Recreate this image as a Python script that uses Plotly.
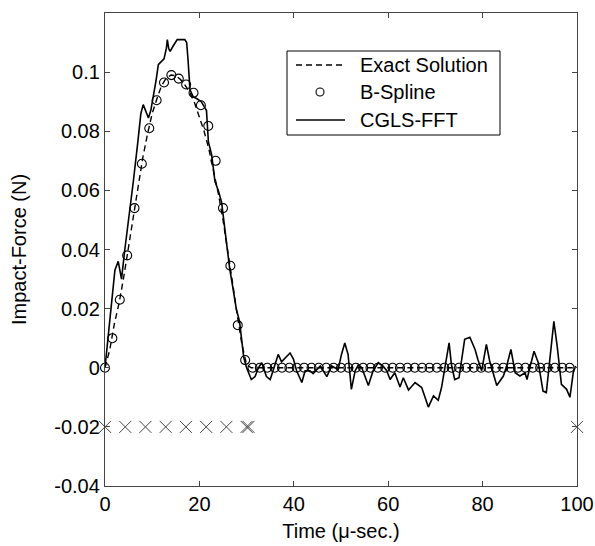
import plotly.graph_objects as go

# ---------------- data ----------------
exact_t = [0, 1, 2, 3, 4, 5, 6, 7, 8, 9, 10, 11, 12, 13, 14, 15, 16, 17, 18, 19,
           20, 21, 22, 23, 24, 25, 26, 27, 28, 29, 30, 31, 100]
exact_v = [0, 0.006, 0.015, 0.022, 0.031, 0.041, 0.052, 0.062, 0.071, 0.079,
           0.086, 0.091, 0.0955, 0.098, 0.099, 0.0988, 0.0975, 0.0955, 0.093,
           0.0895, 0.085, 0.080, 0.074, 0.067, 0.059, 0.050, 0.040, 0.029,
           0.018, 0.008, 0.001, 0, 0]

bspline_t = [0, 1.56, 3.13, 4.69, 6.25, 7.81, 9.38, 10.94, 12.5, 14.06, 15.63,
             17.19, 18.75, 20.31, 21.88, 23.44, 25.0, 26.56, 28.13, 29.69,
             31.25, 32.81, 34.38, 35.94, 37.5, 39.06, 40.63, 42.19, 43.75,
             45.31, 46.88, 48.44, 50.0, 51.56, 53.13, 54.69, 56.25, 57.81,
             59.38, 60.94, 62.5, 64.06, 65.63, 67.19, 68.75, 70.31, 71.88,
             73.44, 75.0, 76.56, 78.13, 79.69, 81.25, 82.81, 84.38, 85.94,
             87.5, 89.06, 90.63, 92.19, 93.75, 95.31, 96.88, 98.44]
bspline_v = [0, 0.010, 0.023, 0.038, 0.054, 0.069, 0.081, 0.0905, 0.0965, 0.099,
             0.0978, 0.0958, 0.093, 0.0888, 0.0818, 0.070, 0.054, 0.0345,
             0.0144, 0.0026,
             0, 0, 0, 0, 0, 0, 0, 0, 0, 0, 0, 0, 0, 0, 0, 0, 0, 0, 0, 0, 0, 0,
             0, 0, 0, 0, 0, 0, 0, 0, 0, 0, 0, 0, 0, 0, 0, 0, 0, 0, 0, 0, 0, 0]

cgls_t = [0, 0.5, 1, 1.5, 2.1, 2.8, 3.5, 4.2, 5.0, 6.0, 7.0, 7.6, 8.1, 8.6, 9.2,
          9.7, 10.2, 10.8, 11.3, 12.5, 13.0, 13.2, 13.5, 13.8, 14.5, 15.3,
          16.9, 17.3, 17.6, 18.0, 18.7, 19.5, 20.4, 21.0, 21.5, 21.9, 22.6,
          23.3, 24.0, 24.7, 25.0, 25.7, 26.4, 27.1, 27.8, 28.5, 29.0, 29.4,
          30, 31, 31.8, 32.5, 33.2, 34.2, 35, 36, 36.7, 37.4, 38.5, 39.2, 39.9,
          40.6, 41.7, 42.4, 43.4, 44.1, 45.6, 47, 48, 49.4, 50.1, 50.8, 51.5,
          52.2, 53, 53.7, 54.4, 55.8, 56.8, 57.9, 58.9, 59.7, 60.4, 61.4, 62.5,
          63.2, 64.3, 65.7, 67.1, 68.5, 69.6, 70.6, 71.3, 72, 72.9, 73.4, 74.1,
          75, 76.2, 77.3, 78.4, 79, 79.8, 80.8, 81.5, 83, 84.4, 85.1, 86, 86.9,
          87.9, 89, 89.4, 90, 90.9, 91.8, 92.8, 93.5, 94.3, 95.1, 95.8, 96.7,
          97.8, 98.5, 99.2, 99.7]
cgls_v = [0, 0.008, 0.016, 0.024, 0.033, 0.036, 0.030, 0.040, 0.050, 0.063,
          0.077, 0.086, 0.089, 0.087, 0.0845, 0.087, 0.091, 0.097, 0.1025,
          0.1045, 0.108, 0.111, 0.108, 0.107, 0.109, 0.111, 0.111, 0.110,
          0.104, 0.094, 0.0916, 0.091, 0.090, 0.0885, 0.087, 0.0765, 0.072,
          0.063, 0.060, 0.056, 0.052, 0.043, 0.0337, 0.027, 0.020, 0.0157,
          0.009, 0.0034,
          0, -0.004, -0.003, 0, 0.0017, -0.003, -0.004, 0.0006, 0.0045, 0.002,
          0.004, 0.005, 0.003, -0.001, -0.005, -0.001, -0.001, -0.002, 0.0006,
          -0.003, 0.0006, -0.0006, 0.0045, 0.0084, 0.0045, -0.0073, -0.001,
          0.001, 0, -0.006, -0.001, 0.0017, 0.0006, -0.001, -0.004, -0.0017,
          -0.0065, -0.0034, -0.0075, -0.005, -0.0067, -0.0133, -0.0095, -0.011,
          -0.0067, 0.0006, 0.0084, 0.001, -0.004, -0.0034, 0.0096, 0.0103,
          0.0062, 0.0028, -0.001, 0.0079, 0.0023, -0.006, -0.0028, 0.0006,
          0.0062, -0.0017, -0.0028, -0.0017, -0.004, 0, 0.0056, 0.0017,
          -0.0079, -0.0084, 0.0028, 0.0157, 0.0073, -0.0056, -0.0073, -0.010,
          -0.0017, 0.0006]

knot_t = [0, 4.29, 8.57, 12.86, 17.14, 21.43, 25.71, 30.0, 30.4, 100]
knot_v = [-0.02, -0.02, -0.02, -0.02, -0.02, -0.02, -0.02, -0.02, -0.02, -0.02]

x_ticks = [0, 20, 40, 60, 80, 100]
x_tick_text = ["0", "20", "40", "60", "80", "100"]
y_ticks = [-0.04, -0.02, 0, 0.02, 0.04, 0.06, 0.08, 0.1]
y_tick_text = ["-0.04", "-0.02", "0", "0.02", "0.04", "0.06", "0.08", "0.1"]

legend_names = ["Exact Solution", "B-Spline", "CGLS-FFT"]

FONT = "Liberation Sans, Arial, Helvetica, sans-serif"
AXC = "#444444"

W, H = 595, 546
ML, MR, MT, MB = 105, 18, 13, 60
PW, PH = W - ML - MR, H - MT - MB


def px(xp):
    # window pixel x -> paper x
    return (xp - ML) / PW


def py(yp):
    # window pixel y -> paper y
    return (H - MB - yp) / PH


fig = go.Figure()
fig.add_trace(go.Scatter(x=knot_t, y=knot_v, mode="markers", showlegend=False,
                         cliponaxis=False,
                         marker=dict(symbol="x-thin-open", size=12, color="#444444",
                                     line=dict(width=1, color="#444444"))))
fig.add_trace(go.Scatter(x=exact_t, y=exact_v, mode="lines", name=legend_names[0],
                         showlegend=False,
                         line=dict(color="black", width=1.4, dash="6px,4px")))
fig.add_trace(go.Scatter(x=bspline_t, y=bspline_v, mode="markers", name=legend_names[1],
                         showlegend=False, cliponaxis=False,
                         marker=dict(symbol="circle-open", size=9, color="black",
                                     line=dict(width=1.1, color="black"))))
fig.add_trace(go.Scatter(x=cgls_t, y=cgls_v, mode="lines", name=legend_names[2],
                         showlegend=False,
                         line=dict(color="black", width=1.6)))

# ---- legend box drawn as decoration (matches MATLAB legend layout) ----
shapes = [
    dict(type="rect", xref="paper", yref="paper", x0=px(287), x1=px(500),
         y0=py(135), y1=py(51), line=dict(color="black", width=1),
         fillcolor="white", layer="above"),
    dict(type="line", xref="paper", yref="paper", x0=px(296), x1=px(345),
         y0=py(65), y1=py(65), line=dict(color="black", width=1.4, dash="6px,4px"),
         layer="above"),
    dict(type="circle", xref="paper", yref="paper", x0=px(316), x1=px(324),
         y0=py(96), y1=py(88), line=dict(color="black", width=1.1), layer="above"),
    dict(type="line", xref="paper", yref="paper", x0=px(296), x1=px(345),
         y0=py(120), y1=py(120), line=dict(color="black", width=1.6),
         layer="above"),
]
annotations = []
for name, yc in zip(legend_names, [65, 92, 120]):
    annotations.append(dict(text=name, xref="paper", yref="paper", x=px(358),
                            y=py(yc), xanchor="left", yanchor="middle",
                            showarrow=False,
                            font=dict(family=FONT, size=20, color="black")))

axis_common = dict(showline=True, linecolor=AXC, linewidth=1.3, mirror="ticks",
                   ticks="inside", ticklen=5, tickcolor=AXC, tickwidth=1,
                   showgrid=False, zeroline=False, automargin=False,
                   tickfont=dict(family=FONT, size=20, color="black"))

fig.update_layout(
    width=W, height=H,
    margin=dict(l=ML, r=MR, t=MT, b=MB),
    paper_bgcolor="white", plot_bgcolor="white",
    font=dict(family=FONT, size=20, color="black"),
    xaxis=dict(range=[0, 100], tickvals=x_ticks, ticktext=x_tick_text,
               title=dict(text="Time (μ-sec.)", font=dict(family=FONT, size=20),
                          standoff=9),
               **axis_common),
    yaxis=dict(range=[-0.04, 0.12], tickvals=y_ticks, ticktext=y_tick_text,
               title=dict(text="Impact-Force (N)", font=dict(family=FONT, size=20),
                          standoff=22),
               **axis_common),
    shapes=shapes,
    annotations=annotations,
    showlegend=False,
)

# remove the default page margin so the 595x546 figure fills the window exactly
fig.write_html(
    "out.html",
    config={"displayModeBar": False},
    post_script="document.body.style.margin='0';document.body.style.overflow='hidden';",
)
